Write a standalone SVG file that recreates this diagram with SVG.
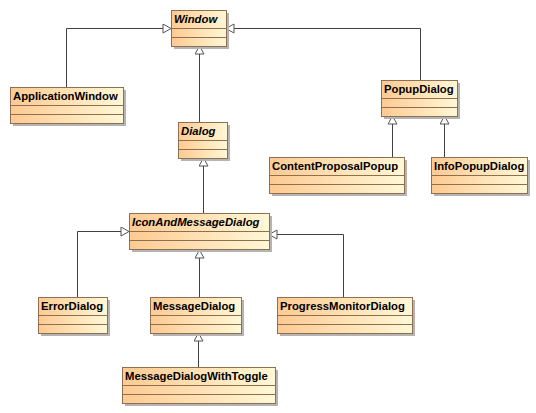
<svg xmlns="http://www.w3.org/2000/svg" width="536" height="413" viewBox="0 0 536 413">
<style>
.sh{fill:#b4b4b4}
.bx{fill:url(#g);stroke:#8f6f4f;stroke-width:1}
.dv{stroke:#8f6f4f;stroke-width:1}
.t{font-family:"Liberation Sans",Arial,sans-serif;font-weight:bold;font-size:11.3px;fill:#000}
.i{font-style:italic}
.c{fill:none;stroke:#404040;stroke-width:1}
</style>
<defs>
<linearGradient id="g" x1="0" y1="0" x2="1" y2="0">
<stop offset="0" stop-color="#fdca92"/>
<stop offset="1" stop-color="#fff8d6"/>
</linearGradient>
<marker id="tri" markerUnits="userSpaceOnUse" markerWidth="12" markerHeight="12" refX="9" refY="5" orient="auto" viewBox="0 0 12 12">
<path d="M1,0.5 L9,5 L1,9.5 Z" fill="#fff" stroke="#555" stroke-width="1"/>
</marker>
</defs>
<rect width="536" height="413" fill="#fff"/>
<g id="connectors">
<path class="c" d="M66.5,87 V28.5 H171" marker-end="url(#tri)"/>
<path class="c" d="M420.5,80 V28.5 H226" marker-end="url(#tri)"/>
<path class="c" d="M199.5,122 V46" marker-end="url(#tri)"/>
<path class="c" d="M392.5,157 V116" marker-end="url(#tri)"/>
<path class="c" d="M444.5,157 V116" marker-end="url(#tri)"/>
<path class="c" d="M203.5,213 V158" marker-end="url(#tri)"/>
<path class="c" d="M77.5,297 V231.5 H129" marker-end="url(#tri)"/>
<path class="c" d="M199.5,297 V250" marker-end="url(#tri)"/>
<path class="c" d="M343.5,297 V234.5 H269" marker-end="url(#tri)"/>
<path class="c" d="M198.5,367 V333" marker-end="url(#tri)"/>
</g>
<g id="Window">
<rect class="sh" x="174" y="13" width="55" height="36"/>
<rect class="bx" x="171.5" y="10.5" width="55" height="36"/>
<path class="dv" d="M171.5,28.5 H226.5 M171.5,37.5 H226.5"/>
<text class="t i" x="174" y="23">Window</text>
</g>
<g id="ApplicationWindow">
<rect class="sh" x="13" y="90" width="113" height="36"/>
<rect class="bx" x="10.5" y="87.5" width="113" height="36"/>
<path class="dv" d="M10.5,105.5 H123.5 M10.5,114.5 H123.5"/>
<text class="t" x="13" y="100">ApplicationWindow</text>
</g>
<g id="Dialog">
<rect class="sh" x="181" y="125" width="49" height="36"/>
<rect class="bx" x="178.5" y="122.5" width="49" height="36"/>
<path class="dv" d="M178.5,140.5 H227.5 M178.5,149.5 H227.5"/>
<text class="t i" x="181" y="135">Dialog</text>
</g>
<g id="PopupDialog">
<rect class="sh" x="384" y="83" width="76" height="36"/>
<rect class="bx" x="381.5" y="80.5" width="76" height="36"/>
<path class="dv" d="M381.5,98.5 H457.5 M381.5,107.5 H457.5"/>
<text class="t" x="384" y="93">PopupDialog</text>
</g>
<g id="ContentProposalPopup">
<rect class="sh" x="272" y="160" width="135" height="36"/>
<rect class="bx" x="269.5" y="157.5" width="135" height="36"/>
<path class="dv" d="M269.5,175.5 H404.5 M269.5,184.5 H404.5"/>
<text class="t" x="272" y="170">ContentProposalPopup</text>
</g>
<g id="InfoPopupDialog">
<rect class="sh" x="434" y="160" width="96" height="36"/>
<rect class="bx" x="431.5" y="157.5" width="96" height="36"/>
<path class="dv" d="M431.5,175.5 H527.5 M431.5,184.5 H527.5"/>
<text class="t" x="434" y="170">InfoPopupDialog</text>
</g>
<g id="IconAndMessageDialog">
<rect class="sh" x="132" y="216" width="140" height="36"/>
<rect class="bx" x="129.5" y="213.5" width="140" height="36"/>
<path class="dv" d="M129.5,231.5 H269.5 M129.5,240.5 H269.5"/>
<text class="t i" x="132" y="226">IconAndMessageDialog</text>
</g>
<g id="ErrorDialog">
<rect class="sh" x="41" y="300" width="69" height="36"/>
<rect class="bx" x="38.5" y="297.5" width="69" height="36"/>
<path class="dv" d="M38.5,315.5 H107.5 M38.5,324.5 H107.5"/>
<text class="t" x="41" y="310">ErrorDialog</text>
</g>
<g id="MessageDialog">
<rect class="sh" x="153" y="300" width="91" height="36"/>
<rect class="bx" x="150.5" y="297.5" width="91" height="36"/>
<path class="dv" d="M150.5,315.5 H241.5 M150.5,324.5 H241.5"/>
<text class="t" x="153" y="310">MessageDialog</text>
</g>
<g id="ProgressMonitorDialog">
<rect class="sh" x="280" y="300" width="135" height="36"/>
<rect class="bx" x="277.5" y="297.5" width="135" height="36"/>
<path class="dv" d="M277.5,315.5 H412.5 M277.5,324.5 H412.5"/>
<text class="t" x="280" y="310">ProgressMonitorDialog</text>
</g>
<g id="MessageDialogWithToggle">
<rect class="sh" x="125" y="370" width="153" height="36"/>
<rect class="bx" x="122.5" y="367.5" width="153" height="36"/>
<path class="dv" d="M122.5,385.5 H275.5 M122.5,394.5 H275.5"/>
<text class="t" x="125" y="380">MessageDialogWithToggle</text>
</g>
</svg>
